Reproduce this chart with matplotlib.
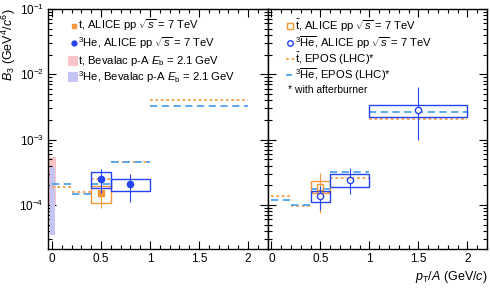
import matplotlib
matplotlib.use("Agg")
import matplotlib.pyplot as plt
import numpy as np
from matplotlib.patches import Rectangle
from matplotlib.ticker import LogLocator, MultipleLocator, NullFormatter, FixedLocator

plt.rcParams['font.family'] = ['Liberation Sans', 'DejaVu Sans']
plt.rcParams['mathtext.fontset'] = 'custom'
plt.rcParams['mathtext.rm'] = 'Liberation Sans'
plt.rcParams['mathtext.it'] = 'Liberation Sans:italic'

ORANGE = '#F5963A'
BLUE = '#2545F5'
EPOS_OR = '#F5A04E'
EPOS_BL = '#4DA3F0'
PINK = '#F9C5C8'
LAV = '#C4C4F5'

# ---- data: left panel (matter) ----
t_x = [0.5]; t_y = [1.5e-4]; t_stat = [0.6e-4]; t_sys = [0.43e-4]; t_xw = [0.1]
he_x = [0.5, 0.8]; he_y = [2.5e-4, 2.05e-4]; he_stat = [1.0e-4, 0.95e-4]
he_sys = [0.67e-4, 0.44e-4]; he_xw = [0.1, 0.2]

bev_t = (1.0e-4, 5.4e-4)
bev_he = (3.5e-5, 3.8e-4)

epos_edges = [0.0, 0.2, 0.4, 0.6, 1.0, 2.0]
epos_t_left = [1.86e-4, 1.6e-4, 2.45e-4, 4.5e-4, 4.1e-3]
epos_he_left = [2.1e-4, 1.48e-4, 2.1e-4, 4.5e-4, 3.25e-3]

# ---- data: right panel (antimatter) ----
at_x = [0.5]; at_y = [1.9e-4]; at_stat = [1.15e-4]; at_sys = [0.4e-4]; at_xw = [0.1]
ahe_x = [0.5, 0.8, 1.5]; ahe_y = [1.37e-4, 2.4e-4, 2.8e-3]
ahe_stat_lo = [0.55e-4, 0.95e-4, 1.8e-3]; ahe_stat_hi = [0.6e-4, 1.3e-4, 3.6e-3]
ahe_sys = [0.27e-4, 0.55e-4, 0.62e-3]; ahe_xw = [0.1, 0.2, 0.5]

epos_t_right = [1.37e-4, 9.6e-5, 1.5e-4, 2.57e-4, 2.04e-3]
epos_he_right = [1.17e-4, 9.8e-5, 1.72e-4, 3.15e-4, 2.67e-3]

labels_left = ['t, ALICE pp $\\sqrt{s}$ = 7 TeV', '$^3$He, ALICE pp $\\sqrt{s}$ = 7 TeV',
               't, Bevalac p-A $E_{\\rm b}$ = 2.1 GeV', '$^3$He, Bevalac p-A $E_{\\rm b}$ = 2.1 GeV']
labels_right = ['$\\bar{\\rm t}$, ALICE pp $\\sqrt{s}$ = 7 TeV',
                '$^3\\overline{\\rm He}$, ALICE pp $\\sqrt{s}$ = 7 TeV',
                '$\\bar{\\rm t}$, EPOS (LHC)*', '$^3\\overline{\\rm He}$, EPOS (LHC)*']
note = '* with afterburner'

fig = plt.figure(figsize=(4.90, 2.88), dpi=100)
L, R, B, T = 0.098, 0.994, 0.135, 0.969
W = (R - L) / 2
axL = fig.add_axes([L, B, W, T - B])
axR = fig.add_axes([L + W, B, W, T - B], sharey=axL)

def epos(ax, vals, color, dashes, z):
    for i, v in enumerate(vals):
        ax.plot([epos_edges[i], epos_edges[i + 1]], [v, v], color=color, lw=1.3,
                dashes=dashes, zorder=z)

def boxes(ax, xs, ys, xw, sys, color):
    for x, y, w, s in zip(xs, ys, xw, sys):
        ax.add_patch(Rectangle((x - w, y - s), 2 * w, 2 * s, fill=False,
                               edgecolor=color, lw=1.0, zorder=4))

# left
axL.fill_between([-0.03, 0.04], bev_t[0], bev_t[1], color=PINK, lw=0, zorder=1)
axL.fill_between([-0.02, 0.027], bev_he[0], bev_he[1], color=LAV, lw=0, zorder=2)
epos(axL, epos_t_left, EPOS_OR, (1.5, 1.5), 3)
epos(axL, epos_he_left, EPOS_BL, (4, 2.5), 3)
boxes(axL, t_x, t_y, t_xw, t_sys, ORANGE)
boxes(axL, he_x, he_y, he_xw, he_sys, BLUE)
axL.errorbar(t_x, t_y, yerr=t_stat, fmt='s', color=ORANGE, ms=4.5, lw=0.8, zorder=5)
axL.errorbar(he_x, he_y, yerr=he_stat, fmt='o', color=BLUE, ms=4.5, lw=0.8, zorder=6)

# right
epos(axR, epos_t_right, EPOS_OR, (1.5, 1.5), 3)
epos(axR, epos_he_right, EPOS_BL, (4, 2.5), 3)
boxes(axR, at_x, at_y, at_xw, at_sys, ORANGE)
boxes(axR, ahe_x, ahe_y, ahe_xw, ahe_sys, BLUE)
axR.errorbar(at_x, at_y, yerr=at_stat, fmt='s', color=ORANGE, mfc='none', ms=5, lw=0.8, zorder=5)
axR.errorbar(ahe_x, ahe_y, yerr=[ahe_stat_lo, ahe_stat_hi], fmt='o', color=BLUE, mfc='white',
             ms=4.5, lw=0.8, zorder=6)

for ax in (axL, axR):
    ax.set_yscale('log')
    ax.set_ylim(2.1e-5, 1e-1)
    ax.set_xlim(-0.04, 2.2)
    ax.xaxis.set_major_locator(FixedLocator([0, 0.5, 1, 1.5, 2]))
    ax.xaxis.set_minor_locator(MultipleLocator(0.1))
    ax.set_xticklabels(['0', '0.5', '1', '1.5', '2'])
    ax.yaxis.set_major_locator(LogLocator(base=10, numticks=10))
    ax.yaxis.set_minor_locator(LogLocator(base=10, subs=np.arange(2, 10), numticks=20))
    ax.yaxis.set_minor_formatter(NullFormatter())
    ax.tick_params(which='both', direction='in', top=True, right=True, labelsize=8.5,
                   width=0.8, pad=3)
    ax.tick_params(which='major', length=6)
    ax.tick_params(which='minor', length=3)
    for s in ax.spines.values():
        s.set_linewidth(1.0)
axR.tick_params(labelleft=False)
axL.set_ylabel('$B_3$ (GeV$^4$/$c^6$)', fontsize=9, labelpad=1, loc='top')
axR.set_xlabel('$p_{\\rm T}/A$ (GeV/$c$)', fontsize=9, loc='right', labelpad=3)

# manual legend, left panel
FS = 8.1
tr = axL.transAxes
rowsL = [0.931, 0.858, 0.785, 0.718]
axL.plot([0.118], [rowsL[0]], 's', color=ORANGE, ms=3.5, transform=tr, clip_on=False)
axL.plot([0.118], [rowsL[1]], 'o', color=BLUE, ms=3.5, transform=tr, clip_on=False)
axL.add_patch(Rectangle((0.091, rowsL[2] - 0.021), 0.045, 0.042, color=PINK, lw=0, transform=tr))
axL.add_patch(Rectangle((0.091, rowsL[3] - 0.021), 0.045, 0.042, color=LAV, lw=0, transform=tr))
for y, s in zip(rowsL, labels_left):
    axL.text(0.135, y, s, transform=tr, fontsize=FS, va='center', ha='left')

# manual legend, right panel
tr = axR.transAxes
rowsR = [0.929, 0.860, 0.792, 0.725]
axR.plot([0.102], [rowsR[0]], 's', color=ORANGE, mfc='none', ms=4, transform=tr, clip_on=False)
axR.plot([0.102], [rowsR[1]], 'o', color=BLUE, mfc='none', ms=4, transform=tr, clip_on=False)
axR.plot([0.085, 0.125], [rowsR[2]] * 2, color=EPOS_OR, lw=1.3, dashes=(1.5, 1.5), transform=tr)
axR.plot([0.09, 0.108], [rowsR[3]] * 2, color=EPOS_BL, lw=1.3, transform=tr)
for y, s in zip(rowsR, labels_right):
    axR.text(0.125, y, s, transform=tr, fontsize=FS, va='center', ha='left')
axR.text(0.095, 0.6625, note, transform=tr, fontsize=7.5, va='center', ha='left')

fig.savefig('out.png', dpi=100)
